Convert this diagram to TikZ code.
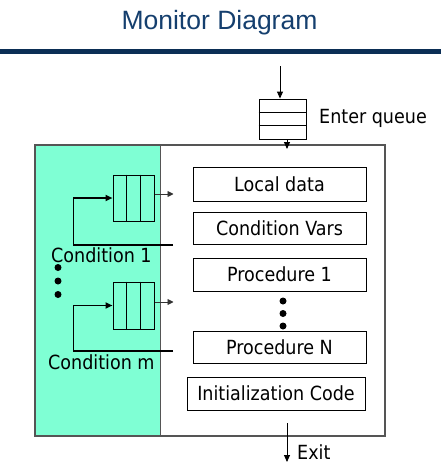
\documentclass[tikz,border=0pt]{standalone}
\usepackage{fontspec}
\setmainfont{DejaVu Sans Condensed}
\newfontfamily\titlefont{Liberation Sans}
\usetikzlibrary{arrows.meta,calc}
\definecolor{aquafill}{HTML}{7FFFD4}
\definecolor{barnavy}{HTML}{0B2E55}
\definecolor{titleblue}{HTML}{153F6E}
\definecolor{framegray}{HTML}{555555}
\begin{document}
\begin{tikzpicture}[x=1pt,y=-1pt,
  lbl/.style={font=\fontsize{19.5}{24}\selectfont, inner sep=0pt},
  codebox/.style={draw=black, line width=0.9pt, inner sep=0pt,
    text height=14.3pt, text depth=0pt, font=\fontsize{19.5}{24}\selectfont},
  queuebox/.style={draw=black, line width=1pt, inner sep=0pt, fill=aquafill},
  thinarrow/.style={line width=0.9pt, -{Triangle[length=7pt,width=6pt]}},
  smallarrow/.style={line width=0.9pt, draw=black!80, -{Triangle[length=6pt,width=6pt]}},
  fbline/.style={line width=1.8pt, -{Triangle[length=7pt,width=6pt]}},
  dotnode/.style={circle, fill=black, inner sep=0pt, minimum size=7pt}]
\useasboundingbox (0,0) rectangle (441,463);

% title and bar
\node[font=\titlefont\fontsize{26.5}{30}\selectfont, text=titleblue, anchor=base, inner sep=0pt] (title) at (219.5,29) {Monitor Diagram};
\fill[barnavy] (0,49) rectangle (441,54);

% monitor body
\node[fill=aquafill, minimum width=125pt, minimum height=291pt, inner sep=0pt] (condarea) at (97.5,290.5) {};
\node[draw=framegray, line width=1.1pt, minimum width=350pt, minimum height=291pt, inner sep=0pt] (monitor) at (210,290.5) {};
\draw[draw=framegray, line width=1.1pt] (condarea.north east) -- (condarea.south east);

% enter queue
\node[draw=black, line width=0.9pt, minimum width=47pt, minimum height=40pt, inner sep=0pt] (eq) at (282.5,119) {};
\draw[line width=0.9pt] ($(eq.north west)!1/3!(eq.south west)$) -- ($(eq.north east)!1/3!(eq.south east)$);
\draw[line width=0.9pt] ($(eq.north west)!2/3!(eq.south west)$) -- ($(eq.north east)!2/3!(eq.south east)$);
\node[lbl, anchor=base west] (eqlabel) at (319,123) {Enter queue};
\coordinate (enter) at (280,66);
\draw[thinarrow] (enter) -- (enter |- eq.north);
\coordinate (entered) at (287,149);
\draw[thinarrow] (entered |- eq.south) -- (entered);

% code boxes
\node[codebox, minimum width=173pt, minimum height=34pt] (local) at (279.5,184) {Local data};
\node[codebox, minimum width=173pt, minimum height=32pt] (cvars) at (279.5,228) {Condition Vars};
\node[codebox, minimum width=173pt, minimum height=33pt] (proc1) at (279.5,274.5) {Procedure 1};
\node[codebox, minimum width=173pt, minimum height=32pt] (procN) at (279.5,347) {Procedure N};
\node[codebox, minimum width=178pt, minimum height=33pt] (init) at (276,393.5) {Initialization Code};
\node[dotnode] (pd1) at (283,301) {};
\node[dotnode] (pd2) at (283,313.5) {};
\node[dotnode] (pd3) at (283,326) {};

% condition queue 1
\node[queuebox, minimum width=41pt, minimum height=46pt] (q1) at (133.5,198) {};
\draw[line width=1.3pt] ($(q1.north west)!1/3!(q1.north east)$) -- ($(q1.south west)!1/3!(q1.south east)$);
\draw[line width=1.3pt] ($(q1.north west)!2/3!(q1.north east)$) -- ($(q1.south west)!2/3!(q1.south east)$);
\coordinate (q1out) at ($(q1.east)+(19,-4)$);
\draw[smallarrow] ([yshift=4pt]q1.east) -- (q1out);
\coordinate (q1wait) at (173,245);
\draw[fbline] (q1wait) -| ([xshift=-39pt]q1.west) -- (q1.west);
\node[lbl, anchor=base west] (c1) at (51,262) {Condition 1};

\node[dotnode] (ld1) at (58,267.5) {};
\node[dotnode] (ld2) at (58,281) {};
\node[dotnode] (ld3) at (58,294.5) {};

% condition queue m
\node[queuebox, minimum width=41pt, minimum height=47pt] (qm) at (133.5,305.5) {};
\draw[line width=1.3pt] ($(qm.north west)!1/3!(qm.north east)$) -- ($(qm.south west)!1/3!(qm.south east)$);
\draw[line width=1.3pt] ($(qm.north west)!2/3!(qm.north east)$) -- ($(qm.south west)!2/3!(qm.south east)$);
\coordinate (qmout) at ($(qm.east)+(19,-3.5)$);
\draw[smallarrow] ([yshift=3.5pt]qm.east) -- (qmout);
\coordinate (qmwait) at (173,351);
\draw[fbline] (qmwait) -| ([xshift=-39pt]qm.west) -- (qm.west);
\node[lbl, anchor=base west] (cm) at (48,369) {Condition m};

% exit
\coordinate (exitstart) at (287,423);
\coordinate (exitend) at (287,462);
\draw[thinarrow] (exitstart) -- (exitend);
\node[lbl, anchor=base west] (exitlabel) at (297,459) {Exit};
\end{tikzpicture}
\end{document}
